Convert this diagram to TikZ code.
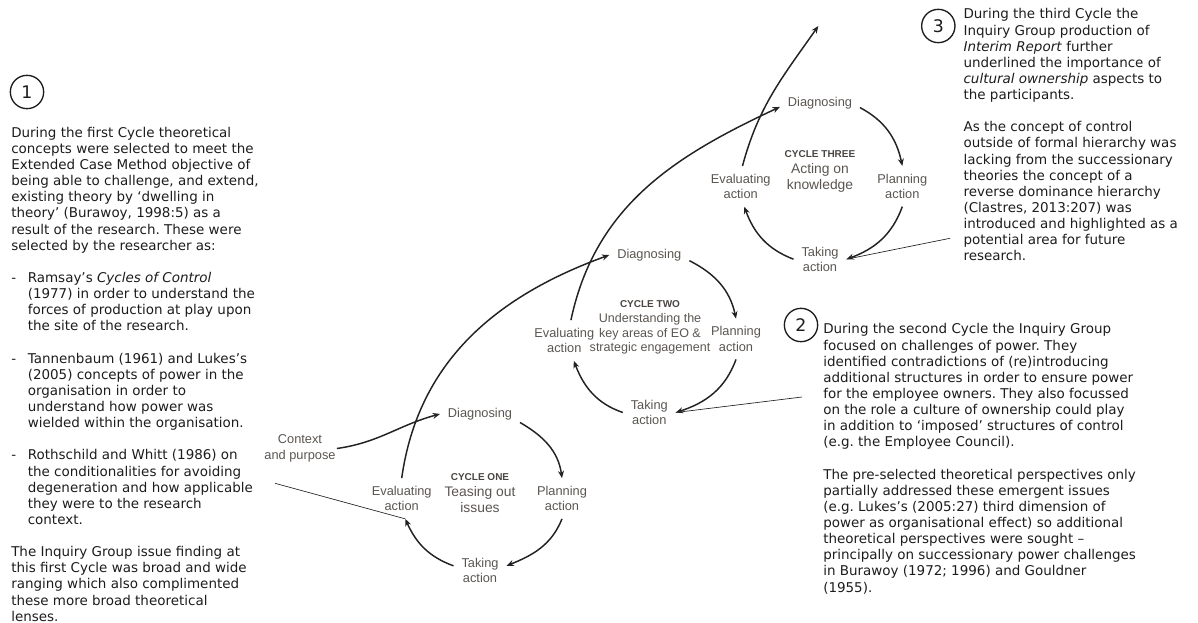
\documentclass[tikz,border=0pt]{standalone}
\usepackage{fontspec}
\newfontfamily\notefont{DejaVu Sans}
\newfontfamily\labelfont{Liberation Sans}
\usetikzlibrary{arrows.meta}
\frenchspacing
\definecolor{ink}{HTML}{1C1C1C}
\definecolor{labelgray}{HTML}{5A5550}
\definecolor{titlegray}{HTML}{4A4542}
\definecolor{wire}{HTML}{222222}
\newcommand\listdash{\makebox[12.4pt][l]{-}}
\newcommand\listgap{\hspace*{12.4pt}}
\newcommand\hubtitle{\fontsize{7.5}{9}\selectfont\bfseries\color{titlegray}}

\tikzstyle{stage} = [font=\labelfont\fontsize{9.6}{11.5}\selectfont, text=labelgray, align=center, inner sep=3pt, outer sep=3pt]
\tikzstyle{hub} = [font=\labelfont\fontsize{10.4}{12}\selectfont, text=labelgray, align=center, inner sep=0pt]
\tikzstyle{note} = [font=\notefont\fontsize{10.1}{12.1}\selectfont, text=ink, align=left, inner sep=0pt, anchor=north west]
\tikzstyle{numcirc} = [circle, draw=ink, line width=1pt, minimum size=25pt, inner sep=0pt, font=\notefont\fontsize{13}{15}\selectfont, text=ink]
\tikzstyle{flow} = [draw=wire, line width=1.1pt, -{Stealth[length=5.5pt,width=4.5pt]}]
\tikzstyle{pointer} = [draw=wire, line width=0.5pt]

\begin{document}
\begin{tikzpicture}[x=0.75pt, y=0.75pt]
	\useasboundingbox (0,0) rectangle (1198,-623);
	
	% cycle one
	\node[stage] (dg1) at (480,-414) {Diagnosing};
	\node[stage] (pl1) at (562,-498.5) {Planning\\action};
	\node[stage] (tk1) at (480,-570.5) {Taking\\action};
	\node[stage] (ev1) at (401.7,-498.5) {Evaluating\\action};
	\node[hub] (hub1) at (480,-493) {{\hubtitle CYCLE ONE}\\Teasing out\\issues};
	\node[stage, inner sep=1pt, outer sep=0pt] (ctx) at (300,-448.5) {Context\\and purpose};
	
	% cycle two
	\node[stage] (dg2) at (649.3,-255) {Diagnosing};
	\node[stage] (pl2) at (736,-339) {Planning\\action};
	\node[stage] (tk2) at (649.3,-412.5) {Taking\\action};
	\node[stage] (ev2) at (564.3,-340.5) {Evaluating\\action};
	\node[hub, font=\labelfont\fontsize{9.4}{10.9}\selectfont] (hub2) at (650,-327.6) {{\hubtitle CYCLE TWO}\\Understanding the\\key areas of EO \&\\strategic engagement};
	
	% cycle three
	\node[stage] (dg3) at (820,-102.7) {Diagnosing};
	\node[stage] (pl3) at (902.3,-186.3) {Planning\\action};
	\node[stage] (tk3) at (820,-259.2) {Taking\\action};
	\node[stage] (ev3) at (740.7,-186.3) {Evaluating\\action};
	\node[hub] (hub3) at (820,-171) {{\hubtitle CYCLE THREE}\\Acting on\\knowledge};
	\coordinate (exit) at (818.3,-26);
	
	% numbered notes
	\node[numcirc] (n1) at (27,-92) {1};
	\node[numcirc] (n2) at (801,-325) {2};
	\node[numcirc] (n3) at (938.3,-26) {3};
	
	\node[note] (txt1) at (11,-126.7) {During the first Cycle theoretical\\
		concepts were selected to meet the\\
		Extended Case Method objective of\\
		being able to challenge, and extend,\\
		existing theory by ‘dwelling in\\
		theory’ (Burawoy, 1998:5) as a\\
		result of the research. These were\\
		selected by the researcher as:\\[12.1pt]
		\listdash Ramsay’s \emph{Cycles of Control}\\
		\listgap (1977) in order to understand the\\
		\listgap forces of production at play upon\\
		\listgap the site of the research.\\[12.1pt]
		\listdash Tannenbaum (1961) and Lukes’s\\
		\listgap (2005) concepts of power in the\\
		\listgap organisation in order to\\
		\listgap understand how power was\\
		\listgap wielded within the organisation.\\[12.1pt]
		\listdash Rothschild and Whitt (1986) on\\
		\listgap the conditionalities for avoiding\\
		\listgap degeneration and how applicable\\
		\listgap they were to the research\\
		\listgap context.\\[12.1pt]
		The Inquiry Group issue finding at\\
		this first Cycle was broad and wide\\
		ranging which also complimented\\
		these more broad theoretical\\
		lenses.};
	
	\node[note] (txt2) at (823,-323.4) {During the second Cycle the Inquiry Group\\
		focused on challenges of power. They\\
		identified contradictions of (re)introducing\\
		additional structures in order to ensure power\\
		for the employee owners. They also focussed\\
		on the role a culture of ownership could play\\
		in addition to ‘imposed’ structures of control\\
		(e.g. the Employee Council).\\[12.1pt]
		The pre-selected theoretical perspectives only\\
		partially addressed these emergent issues\\
		(e.g. Lukes’s (2005:27) third dimension of\\
		power as organisational effect) so additional\\
		theoretical perspectives were sought –\\
		principally on successionary power challenges\\
		in Burawoy (1972; 1996) and Gouldner\\
		(1955).};
	
	\node[note] (txt3) at (963.3,-8.4) {During the third Cycle the\\
		Inquiry Group production of\\
		\emph{Interim Report} further\\
		underlined the importance of\\
		\emph{cultural ownership} aspects to\\
		the participants.\\[12.1pt]
		As the concept of control\\
		outside of formal hierarchy was\\
		lacking from the successionary\\
		theories the concept of a\\
		reverse dominance hierarchy\\
		(Clastres, 2013:207) was\\
		introduced and highlighted as a\\
		potential area for future\\
		research.};
	
	% cycle arrows
	\path[flow] (ctx.east) to[out=8,in=195] (dg1.west);
	\path[flow] (dg1.-12) to[out=-30,in=98] (pl1.north);
	\path[flow] (pl1.south) to[out=-112,in=22] (tk1.10);
	\path[flow] (tk1.170) to[out=160,in=-66] (ev1.-80);
	\path[flow] (ev1.north) to[out=82,in=200] (dg2.west);
	
	\path[flow] (dg2.-8) to[out=-27,in=102] (pl2.north);
	\path[flow] (pl2.south) to[out=-110,in=18] (tk2.east);
	\path[flow] (tk2.west) to[out=161,in=-69] (ev2.-65);
	\path[flow] (ev2.72) to[out=78,in=205] (dg3.186);
	
	\path[flow] (dg3.-7) to[out=-28,in=102] (pl3.north);
	\path[flow] (pl3.south) to[out=-110,in=20] (tk3.east);
	\path[flow] (tk3.west) to[out=159,in=-70] (ev3.-80);
	\path[flow] (ev3.85) to[out=75,in=235] (exit);
	
	% note pointers
	\coordinate (p1) at (275,-483.3);
	\coordinate (p2) at (802,-397);
	\coordinate (p3) at (950,-238.3);
	\draw[pointer] (p1) -- (ev1.-80);
	\draw[pointer] (p2) -- (tk2.east);
	\draw[pointer] (p3) -- (tk3.east);
\end{tikzpicture}
\end{document}
